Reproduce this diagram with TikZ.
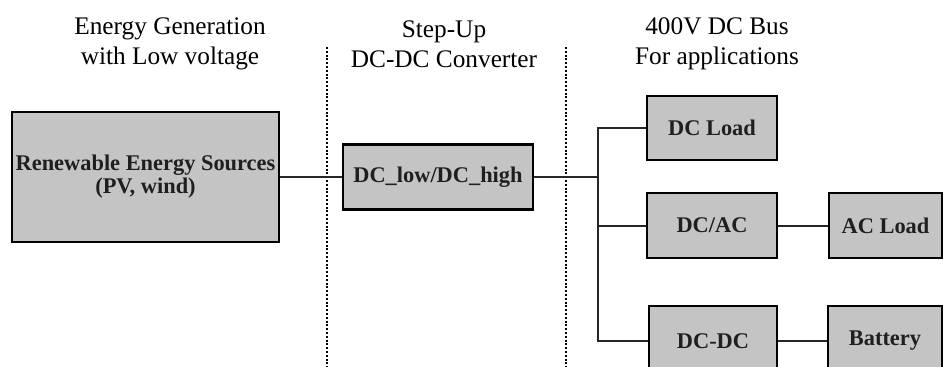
\documentclass[tikz,border=0pt]{standalone}
\usepackage{fontspec}
\setmainfont{Liberation Serif}
\usetikzlibrary{calc}
\definecolor{boxgray}{RGB}{196,196,196}
\definecolor{wiregray}{RGB}{38,38,38}

\begin{document}
\begin{tikzpicture}[x=1pt, y=-1pt]
\tikzset{block/.style={draw=black, line width=2.2pt, fill=boxgray, inner sep=0pt, align=center, text=black!88, font=\fontsize{22.4}{23}\selectfont\bfseries},
  wire/.style={draw=wiregray, line width=2pt},
  divider/.style={line width=2pt, dash pattern=on 2pt off 1.8pt},
  heading/.style={inner sep=0pt, align=center, font=\fontsize{25.3}{30}\selectfont}}
\clip (0,0) rectangle (943,367);

% column titles
\node[heading] (hgen) at (170,44) {Energy Generation\\with Low voltage};
\node[heading] (hconv) at (444,44) {Step-Up\\DC-DC Converter};
\node[heading] (hbus) at (717,44) {400V DC Bus\\For applications};

% dotted separators
\coordinate (sepAtop) at (327,47);
\coordinate (sepAbot) at (327,367);
\coordinate (sepBtop) at (566,47);
\coordinate (sepBbot) at (566,367);
\draw[divider] (sepAtop) -- (sepAbot);
\draw[divider] (sepBtop) -- (sepBbot);

% blocks
\node[block, minimum width=267pt, minimum height=130pt] (src) at (145.5,177) {Renewable Energy Sources\\(PV, wind)};
\node[block, minimum width=190pt, minimum height=65pt] (conv) at (438,177) {DC\_low/DC\_high};
\node[block, minimum width=130pt, minimum height=64pt] (dcload) at (712,128) {DC Load};
\node[block, minimum width=130pt, minimum height=65pt] (dcac) at (712,225.5) {DC/AC};
\node[block, minimum width=113pt, minimum height=65pt] (acload) at (885.5,225.5) {AC Load};
\node[block, minimum width=128pt, minimum height=70pt] (dcdc) at (713,341) {DC-DC};
\node[block, minimum width=114pt, minimum height=70pt] (batt) at (885,341) {Battery};

% bus
\coordinate (bus) at (598,177);
\draw[wire] (src.east) -- (conv.west);
\draw[wire] (conv.east) -- (bus);
\draw[wire] (dcload.west) -- (dcload.west -| bus) -- (dcdc.west -| bus) -- (dcdc.west);
\draw[wire] (dcac.west) -- (dcac.west -| bus);
\draw[wire] (dcac.east) -- (acload.west);
\draw[wire] (dcdc.east) -- (batt.west);

\end{tikzpicture}
\end{document}
